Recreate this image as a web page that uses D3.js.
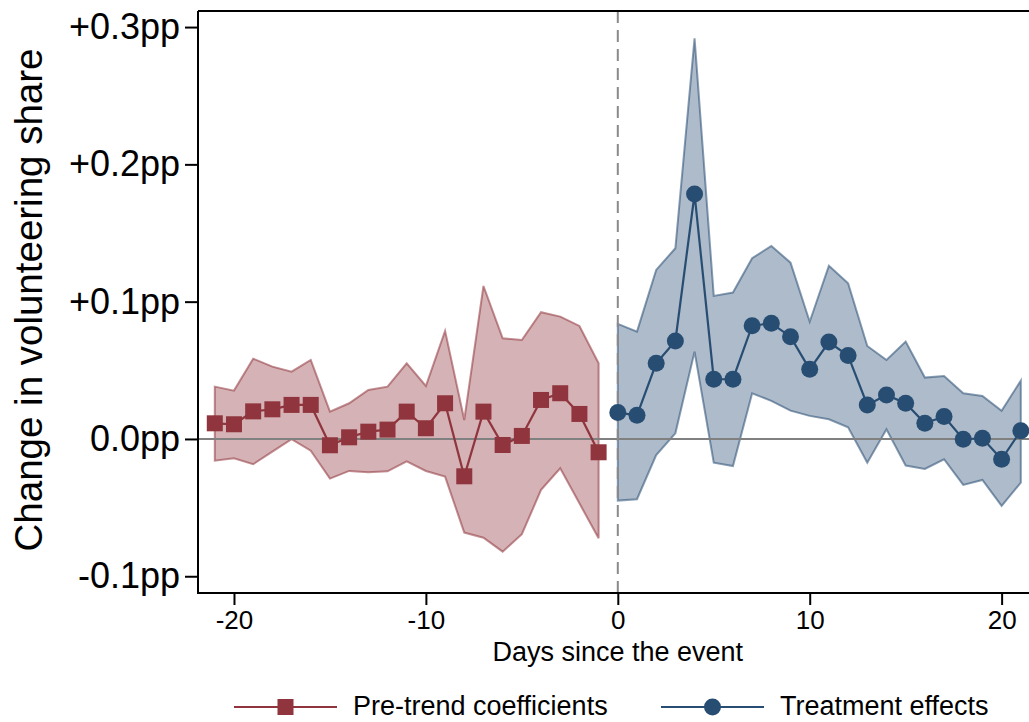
<!DOCTYPE html>
<html>
<head>
<meta charset="utf-8">
<script src="https://cdn.jsdelivr.net/npm/d3@7"></script>
<style>
  html, body { margin: 0; padding: 0; background: #fff; }
  svg { display: block; font-family: "Liberation Sans", Arial, sans-serif; }
</style>
</head>
<body>
<svg id="chart" width="1029" height="722"></svg>
<script>
// Event-study estimates: days relative to the event, point estimates and 95% CI bounds
const preDays   = [-21,-20,-19,-18,-17,-16,-15,-14,-13,-12,-11,-10,-9,-8,-7,-6,-5,-4,-3,-2,-1];
const preCoef   = [0.0114,0.0107,0.0201,0.0216,0.0248,0.0248,-0.0046,0.0012,0.0053,0.0068,0.0199,0.0078,0.0260,-0.0272,0.0199,-0.0044,0.0022,0.0284,0.0333,0.0182,-0.0097];
const preUpper  = [0.0381,0.0352,0.0585,0.0527,0.0490,0.0575,0.0199,0.0260,0.0357,0.0381,0.0551,0.0386,0.0787,0.0138,0.1114,0.0733,0.0721,0.0923,0.0891,0.0823,0.0551];
const preLower  = [-0.0158,-0.0141,-0.0184,-0.0092,-0.0002,-0.0085,-0.0289,-0.0233,-0.0243,-0.0236,-0.0163,-0.0233,-0.0274,-0.0682,-0.0719,-0.0821,-0.0694,-0.0371,-0.0214,-0.0469,-0.0723];

const postDays  = [0,1,2,3,4,5,6,7,8,9,10,11,12,13,14,15,16,17,18,19,20,21];
const postCoef  = [0.0192,0.0172,0.0551,0.0714,0.1784,0.0435,0.0435,0.0825,0.0842,0.0745,0.0507,0.0706,0.0607,0.0248,0.0320,0.0260,0.0114,0.0163,-0.0002,0.0005,-0.0148,0.0060];
const postUpper = [0.0838,0.0782,0.1231,0.1389,0.2918,0.1042,0.1066,0.1316,0.1406,0.1284,0.0854,0.1262,0.1134,0.0677,0.0575,0.0709,0.0447,0.0459,0.0333,0.0313,0.0206,0.0425];
const postLower = [-0.0449,-0.0439,-0.0117,0.0041,0.0636,-0.0173,-0.0197,0.0333,0.0277,0.0206,0.0168,0.0143,0.0085,-0.0173,0.0071,-0.0194,-0.0218,-0.0148,-0.0335,-0.0299,-0.0488,-0.0318];

const xTicks = [-20,-10,0,10,20];
const xTickLabels = ["-20","-10","0","10","20"];
const yTicks = [-0.1,0,0.1,0.2,0.3];
const yTickLabels = ["-0.1pp","0.0pp","+0.1pp","+0.2pp","+0.3pp"];

const seriesNames = ["Pre-trend coefficients","Treatment effects"];

const RED = "rgb(144,53,61)";
const BLUE = "rgb(40,77,115)";

const svg = d3.select("#chart");
const plot = { left: 198, right: 1040, top: 11, bottom: 593 };

const x = d3.scaleLinear().domain([-21.875, 22]).range([plot.left, plot.right]);
const y = d3.scaleLinear().domain([-0.1122, 0.3117]).range([plot.bottom, plot.top]);

const pre = preDays.map((d, i) => ({ d, c: preCoef[i], lo: preLower[i], hi: preUpper[i] }));
const post = postDays.map((d, i) => ({ d, c: postCoef[i], lo: postLower[i], hi: postUpper[i] }));

const area = d3.area().x(p => x(p.d)).y0(p => y(p.lo)).y1(p => y(p.hi));
const line = d3.line().x(p => x(p.d)).y(p => y(p.c));

// confidence bands (closed polygons with outline)
function band(data, color) {
  svg.append("path")
    .attr("d", area(data) + "Z")
    .attr("fill", color)
    .attr("fill-opacity", 0.38)
    .attr("stroke", color)
    .attr("stroke-opacity", 0.55)
    .attr("stroke-width", 2)
    .attr("stroke-linejoin", "miter");
}
band(pre, RED);
band(post, BLUE);

// reference lines
svg.append("line")
  .attr("x1", plot.left).attr("x2", plot.right)
  .attr("y1", y(0)).attr("y2", y(0))
  .attr("stroke", "#808080").attr("stroke-width", 2);
svg.append("line")
  .attr("x1", x(0)).attr("x2", x(0))
  .attr("y1", plot.top).attr("y2", plot.bottom)
  .attr("stroke", "#8a8a8a").attr("stroke-width", 2)
  .attr("stroke-dasharray", "12,7");

// coefficient lines and markers
svg.append("path").attr("d", line(pre)).attr("fill", "none")
  .attr("stroke", RED).attr("stroke-width", 2.2);
svg.append("path").attr("d", line(post)).attr("fill", "none")
  .attr("stroke", BLUE).attr("stroke-width", 2.2);

const sq = 16;
svg.append("g").selectAll("rect").data(pre).join("rect")
  .attr("x", p => x(p.d) - sq / 2).attr("y", p => y(p.c) - sq / 2)
  .attr("width", sq).attr("height", sq).attr("fill", RED);
svg.append("g").selectAll("circle").data(post).join("circle")
  .attr("cx", p => x(p.d)).attr("cy", p => y(p.c)).attr("r", 8.5).attr("fill", BLUE);

// frame
svg.append("path")
  .attr("d", `M${plot.left},${plot.top}H${plot.right}M${plot.left},${plot.top}V${plot.bottom}H${plot.right}`)
  .attr("fill", "none").attr("stroke", "#000").attr("stroke-width", 2);

// axes
const yAxis = d3.axisLeft(y).tickValues(yTicks)
  .tickFormat((d, i) => yTickLabels[i]).tickSize(13).tickPadding(5);
const gy = svg.append("g").attr("transform", `translate(${plot.left},0)`).call(yAxis);
gy.select(".domain").remove();
gy.selectAll(".tick line").attr("stroke", "#000").attr("stroke-width", 2);
gy.selectAll(".tick text").attr("fill", "#000")
  .style("font-size", "36px").style("font-family", "'Liberation Sans', Arial, sans-serif");

const xAxis = d3.axisBottom(x).tickValues(xTicks)
  .tickFormat((d, i) => xTickLabels[i]).tickSize(12).tickPadding(6);
const gx = svg.append("g").attr("transform", `translate(0,${plot.bottom})`).call(xAxis);
gx.select(".domain").remove();
gx.selectAll(".tick line").attr("stroke", "#000").attr("stroke-width", 2);
gx.selectAll(".tick text").attr("fill", "#000")
  .style("font-size", "26px").style("font-family", "'Liberation Sans', Arial, sans-serif");

// axis titles
svg.append("text")
  .attr("x", x(0)).attr("y", 661)
  .attr("text-anchor", "middle")
  .style("font-size", "27px")
  .text("Days since the event");
svg.append("text")
  .attr("transform", `translate(42,300) rotate(-90)`)
  .attr("text-anchor", "middle")
  .style("font-size", "38.5px")
  .text("Change in volunteering share");

// legend
const legend = svg.append("g");
const legendItems = [
  { name: seriesNames[0], color: RED, shape: "square", x0: 234 },
  { name: seriesNames[1], color: BLUE, shape: "circle", x0: 661 }
];
const ly = 707;
legendItems.forEach(it => {
  const g = legend.append("g");
  g.append("line").attr("x1", it.x0).attr("x2", it.x0 + 103)
    .attr("y1", ly).attr("y2", ly).attr("stroke", it.color).attr("stroke-width", 2.2);
  const cx = it.x0 + 51.5;
  if (it.shape === "square") {
    g.append("rect").attr("x", cx - sq / 2).attr("y", ly - sq / 2)
      .attr("width", sq).attr("height", sq).attr("fill", it.color);
  } else {
    g.append("circle").attr("cx", cx).attr("cy", ly).attr("r", 8.5).attr("fill", it.color);
  }
  g.append("text").attr("x", it.x0 + 119).attr("y", ly + 8)
    .style("font-size", "27px").attr("fill", "#000").text(it.name);
});
</script>
</body>
</html>
